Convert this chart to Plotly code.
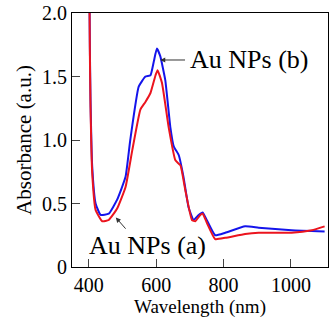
import plotly.graph_objects as go

wl_blue = [400, 403, 405, 410, 420, 435, 459, 484, 509, 523, 548, 568, 583, 593, 602, 612, 627, 642, 652, 667, 681, 696, 711, 726, 738, 750, 775, 805, 864, 904, 1002, 1100]
abs_blue = [2.8, 1.75, 1.31, 0.79, 0.50, 0.41, 0.42, 0.53, 0.71, 1.00, 1.42, 1.50, 1.51, 1.62, 1.72, 1.66, 1.47, 1.10, 0.95, 0.88, 0.71, 0.47, 0.37, 0.41, 0.43, 0.37, 0.25, 0.27, 0.32, 0.31, 0.29, 0.28]

wl_red = [400, 403, 405, 410, 420, 440, 459, 484, 509, 529, 553, 568, 583, 598, 604, 617, 637, 657, 672, 686, 706, 716, 731, 738, 750, 775, 805, 864, 904, 1002, 1062, 1100]
abs_red = [2.8, 1.70, 1.26, 0.74, 0.45, 0.36, 0.37, 0.46, 0.63, 0.92, 1.24, 1.30, 1.37, 1.51, 1.55, 1.45, 1.10, 0.84, 0.80, 0.61, 0.37, 0.36, 0.41, 0.42, 0.35, 0.22, 0.23, 0.26, 0.27, 0.27, 0.29, 0.32]

x_ticks = [400, 600, 800, 1000]
y_ticks = [0, 0.5, 1.0, 1.5, 2.0]
y_tick_text = ["0", "0.5", "1.0", "1.5", "2.0"]

label_blue = "Au NPs (b)"
label_red = "Au NPs (a)"

font = "Times New Roman, Liberation Serif, DejaVu Serif, serif"

fig = go.Figure()
fig.add_trace(go.Scatter(x=wl_blue, y=abs_blue, mode="lines",
                         line=dict(color="rgb(20,20,235)", width=2, shape="spline", smoothing=0.4)))
fig.add_trace(go.Scatter(x=wl_red, y=abs_red, mode="lines",
                         line=dict(color="rgb(235,20,30)", width=2, shape="spline", smoothing=0.4)))

fig.add_annotation(x=612, y=1.63, ax=690, ay=1.63, axref="x", ayref="y",
                   showarrow=True, arrowhead=2, arrowsize=1, arrowwidth=1, arrowcolor="#333",
                   text="")
fig.add_annotation(x=695, y=1.63, text=label_blue, showarrow=False, xanchor="left",
                   yanchor="middle", font=dict(family=font, size=26, color="black"))
fig.add_annotation(x=480, y=0.39, ax=513, ay=0.29, axref="x", ayref="y",
                   showarrow=True, arrowhead=2, arrowsize=1, arrowwidth=1, arrowcolor="#333",
                   text="")
fig.add_annotation(x=395, y=0.17, text=label_red, showarrow=False, xanchor="left",
                   yanchor="middle", font=dict(family=font, size=26, color="black"))

fig.update_layout(
    width=329, height=320,
    margin=dict(l=72, r=1, t=13, b=53),
    plot_bgcolor="white", paper_bgcolor="white",
    showlegend=False,
    font=dict(family=font, size=20, color="black"),
    xaxis=dict(range=[350, 1110], tickvals=x_ticks, ticks="inside", ticklen=8,
               showline=True, linecolor="black", linewidth=1, mirror=True,
               showgrid=False, zeroline=False,
               title=dict(text="Wavelength (nm)", standoff=1, font=dict(size=19))),
    yaxis=dict(range=[0, 2.0], tickvals=y_ticks, ticktext=y_tick_text, ticks="inside", ticklen=8,
               showline=True, linecolor="black", linewidth=1, mirror=True,
               showgrid=False, zeroline=False,
               title=dict(text="Absorbance (a.u.)", standoff=4, font=dict(size=21))),
)

fig.write_html("out.html")
